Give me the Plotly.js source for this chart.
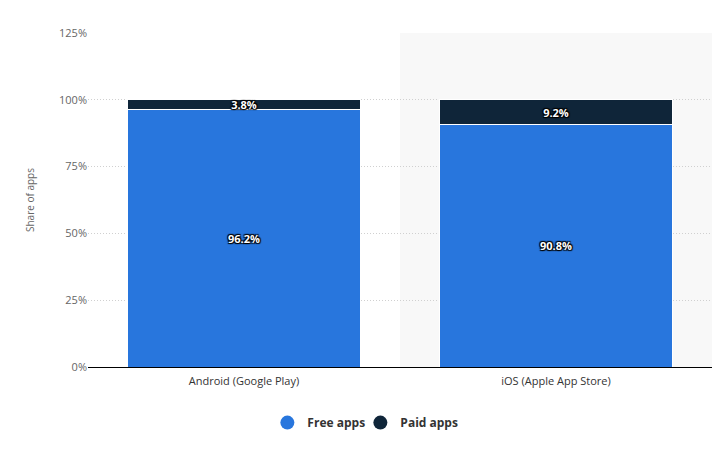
<!DOCTYPE html>
<html><head><meta charset="utf-8">
<script src="https://cdn.plot.ly/plotly-3.0.1.min.js"></script>
<style>body{margin:0;background:#fff}#c{width:727px;height:458px}</style>
</head><body><div id="c"></div>
<script>
const categories = ["Android (Google Play)", "iOS (Apple App Store)"];
const freeApps = [96.2, 90.8];
const paidApps = [3.8, 9.2];
const yTicks = [0, 25, 50, 75, 100, 125];
const yTickLabels = ["0%", "25%", "50%", "75%", "100%", "125%"];

const FREE = "#2876dd", PAID = "#0f2539";
const labelFont = {family: "Open Sans, Arial, sans-serif", size: 11, color: "#ffffff", weight: 700, shadow: "1px 1px 1px #000, -1px -1px 1px #000, 1px -1px 1px #000, -1px 1px 1px #000"};

const traces = [
  {type: "bar", x: categories, y: freeApps, name: "Free apps", marker: {color: FREE, line: {color: "#fff", width: 1}},
   text: freeApps.map(v => v.toFixed(1) + "%"), textposition: "inside", insidetextanchor: "middle",
   textfont: labelFont, showlegend: false, hoverinfo: "skip"},
  {type: "bar", x: categories, y: paidApps, name: "Paid apps", marker: {color: PAID, line: {color: "#fff", width: 1}},
   text: paidApps.map(v => v.toFixed(1) + "%"), textposition: "inside", insidetextanchor: "middle",
   textfont: labelFont, showlegend: false, hoverinfo: "skip", constraintext: "none"},
  {type: "scatter", mode: "markers", x: [null], y: [null], name: "Free apps", marker: {color: FREE, size: 14, symbol: "circle"}},
  {type: "scatter", mode: "markers", x: [null], y: [null], name: "Paid apps", marker: {color: PAID, size: 14, symbol: "circle"}},
  {type: "scatter", mode: "markers", x: [null], y: [null], name: " ", marker: {color: "rgba(0,0,0,0)", size: 1}}
];

const layout = {
  width: 727, height: 458,
  margin: {l: 88, r: 15, t: 33, b: 91},
  barmode: "stack", bargap: 0.256,
  paper_bgcolor: "#fff", plot_bgcolor: "rgba(0,0,0,0)",
  font: {family: "Open Sans, Arial, sans-serif", color: "#666"},
  xaxis: {type: "category", showgrid: false, showline: true, linecolor: "#000", linewidth: 1, automargin: false,
          ticks: "outside", ticklen: 4, tickcolor: "rgba(0,0,0,0)", tickfont: {size: 11, color: "#333"}, range: [-0.5, 1.5], fixedrange: true},
  yaxis: {range: [0, 125], tickvals: yTicks, ticktext: yTickLabels, showgrid: true, automargin: false,
          gridcolor: "#d0d0d0", griddash: "1px,2px", gridwidth: 1, zeroline: false,
          tickfont: {size: 11, color: "#666"}, ticks: "", ticklen: 0,
          title: {text: "Share of apps", font: {size: 10, color: "#666"}, standoff: 22}},
  shapes: [{type: "rect", xref: "x", yref: "paper", x0: 0.5, x1: 1.5, y0: 0, y1: 1,
            fillcolor: "#f8f8f8", line: {width: 0}, layer: "below"}],
  legend: {orientation: "h", x: 0.511, xanchor: "center", y: -0.123, yanchor: "top", traceorder: "normal",
           entrywidth: 48, font: {size: 12, color: "#333", weight: 700}},
  showlegend: true
};

Plotly.newPlot("c", traces, layout, {displayModeBar: false, staticPlot: true});
</script></body></html>
